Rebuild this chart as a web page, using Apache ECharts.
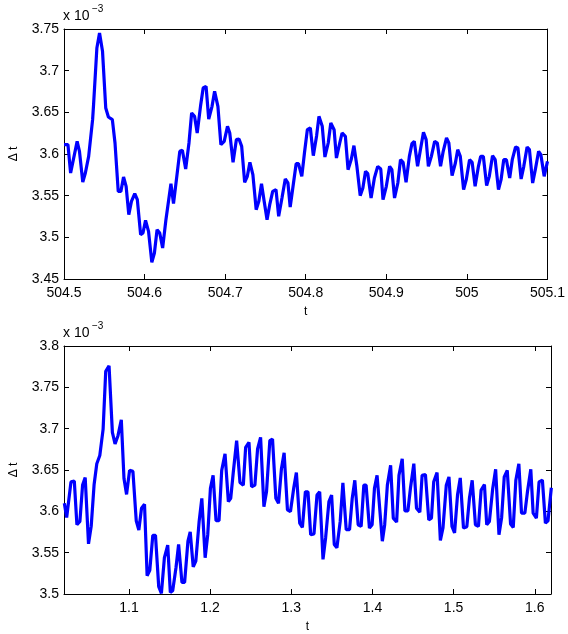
<!DOCTYPE html>
<html>
<head>
<meta charset="utf-8">
<script src="https://cdn.jsdelivr.net/npm/echarts@6/dist/echarts.min.js"></script>
<style>
html,body{margin:0;padding:0;background:#fff;}
#c{width:568px;height:634px;}
</style>
</head>
<body>
<div id="c"></div>
<script>
// ---- Data (values in units of 1e-3) ----
const tTop = [504.5000,504.5049,504.5082,504.5163,504.5192,504.5233,504.5265,504.5306,504.5355,504.5367,504.5408,504.5441,504.5478,504.5518,504.5551,504.5600,504.5633,504.5673,504.5706,504.5739,504.5771,504.5804,504.5837,504.5878,504.5910,504.5951,504.5980,504.6012,504.6049,504.6090,504.6122,504.6155,504.6188,504.6224,504.6265,504.6327,504.6359,504.6400,504.6437,504.6469,504.6510,504.6551,504.6584,504.6620,504.6653,504.6694,504.6727,504.6763,504.6796,504.6837,504.6869,504.6910,504.6947,504.6988,504.7029,504.7057,504.7098,504.7139,504.7172,504.7205,504.7242,504.7275,504.7307,504.7344,504.7385,504.7418,504.7451,504.7484,504.7520,504.7553,504.7590,504.7631,504.7664,504.7705,504.7746,504.7779,504.7807,504.7848,504.7881,504.7910,504.7951,504.7984,504.8020,504.8057,504.8094,504.8135,504.8164,504.8205,504.8238,504.8279,504.8311,504.8352,504.8381,504.8422,504.8451,504.8492,504.8525,504.8566,504.8598,504.8635,504.8676,504.8709,504.8742,504.8770,504.8811,504.8852,504.8893,504.8931,504.8959,504.9000,504.9041,504.9069,504.9102,504.9143,504.9176,504.9208,504.9245,504.9286,504.9318,504.9347,504.9388,504.9420,504.9461,504.9494,504.9522,504.9559,504.9600,504.9633,504.9673,504.9706,504.9747,504.9776,504.9816,504.9857,504.9886,504.9918,504.9959,504.9992,505.0033,505.0065,505.0102,505.0143,505.0171,505.0204,505.0245,505.0278,505.0318,505.0351,505.0392,505.0424,505.0457,505.0490,505.0531,505.0563,505.0604,505.0633,505.0673,505.0706,505.0747,505.0776,505.0816,505.0849,505.0890,505.0918,505.0959,505.1000];
const vTop = [3.6112,3.6112,3.5772,3.6152,3.6032,3.5664,3.5772,3.5972,3.6412,3.6592,3.7272,3.7452,3.7232,3.6552,3.6444,3.6412,3.6132,3.5552,3.5552,3.5724,3.5612,3.5272,3.5432,3.5524,3.5452,3.5032,3.5052,3.5204,3.5072,3.4700,3.4812,3.5092,3.5052,3.4872,3.5212,3.5644,3.5404,3.5732,3.6032,3.6044,3.5820,3.6132,3.6492,3.6452,3.6252,3.6572,3.6792,3.6812,3.6420,3.6572,3.6752,3.6572,3.6112,3.6152,3.6332,3.6252,3.5900,3.6172,3.6180,3.6092,3.5660,3.5732,3.5900,3.5752,3.5332,3.5432,3.5644,3.5432,3.5212,3.5392,3.5552,3.5572,3.5252,3.5472,3.5700,3.5652,3.5364,3.5652,3.5884,3.5884,3.5732,3.6012,3.6292,3.6312,3.5980,3.6220,3.6452,3.6332,3.5964,3.6132,3.6372,3.6292,3.5952,3.6132,3.6252,3.6212,3.5812,3.5940,3.6100,3.5852,3.5500,3.5592,3.5792,3.5764,3.5472,3.5712,3.5852,3.5820,3.5452,3.5612,3.5852,3.5812,3.5472,3.5652,3.5932,3.5900,3.5660,3.5972,3.6124,3.6152,3.5852,3.6032,3.6260,3.6172,3.5852,3.5972,3.6152,3.6132,3.5852,3.6032,3.6192,3.6132,3.5740,3.5892,3.6052,3.5972,3.5572,3.5692,3.5932,3.5900,3.5612,3.5852,3.5972,3.5972,3.5620,3.5732,3.5980,3.5932,3.5572,3.5692,3.5932,3.5932,3.5712,3.5932,3.6084,3.6072,3.5700,3.5852,3.6084,3.6052,3.5652,3.5812,3.6032,3.5992,3.5732,3.5912];

const tBot = [1.0204,1.0233,1.0257,1.0286,1.0327,1.0359,1.0396,1.0429,1.0461,1.0502,1.0535,1.0571,1.0604,1.0641,1.0682,1.0714,1.0755,1.0796,1.0829,1.0865,1.0906,1.0939,1.0971,1.1008,1.1049,1.1090,1.1122,1.1155,1.1192,1.1224,1.1257,1.1294,1.1327,1.1367,1.1400,1.1437,1.1478,1.1510,1.1539,1.1580,1.1612,1.1653,1.1686,1.1727,1.1755,1.1792,1.1824,1.1865,1.1898,1.1939,1.1971,1.2004,1.2037,1.2073,1.2110,1.2143,1.2184,1.2225,1.2254,1.2286,1.2327,1.2368,1.2409,1.2438,1.2479,1.2511,1.2552,1.2585,1.2622,1.2663,1.2695,1.2736,1.2769,1.2810,1.2843,1.2879,1.2912,1.2953,1.2990,1.3031,1.3063,1.3104,1.3137,1.3174,1.3206,1.3239,1.3280,1.3317,1.3350,1.3391,1.3423,1.3464,1.3497,1.3530,1.3562,1.3603,1.3636,1.3677,1.3718,1.3751,1.3783,1.3824,1.3861,1.3894,1.3922,1.3963,1.3996,1.4025,1.4057,1.4122,1.4151,1.4184,1.4224,1.4257,1.4298,1.4327,1.4367,1.4400,1.4437,1.4469,1.4510,1.4543,1.4584,1.4612,1.4653,1.4694,1.4727,1.4755,1.4796,1.4837,1.4869,1.4910,1.4943,1.4980,1.5012,1.5049,1.5082,1.5122,1.5163,1.5196,1.5229,1.5269,1.5306,1.5339,1.5380,1.5408,1.5441,1.5482,1.5518,1.5559,1.5592,1.5624,1.5661,1.5702,1.5735,1.5767,1.5804,1.5837,1.5878,1.5910,1.5951,1.5980,1.6020,1.6053,1.6094,1.6131,1.6163,1.6204];
const vBot = [3.6097,3.5926,3.5910,3.6357,3.6365,3.5838,3.5878,3.6317,3.6408,3.5607,3.5818,3.6325,3.6576,3.6676,3.6995,3.7693,3.7761,3.6955,3.6815,3.6915,3.7107,3.6397,3.6205,3.6496,3.6484,3.5886,3.5774,3.6037,3.6085,3.5220,3.5288,3.5710,3.5710,3.5088,3.5008,3.5439,3.5591,3.5020,3.5040,3.5320,3.5599,3.5140,3.5140,3.5639,3.5750,3.5328,3.5399,3.5878,3.6157,3.5439,3.5718,3.6277,3.6436,3.5886,3.5886,3.6496,3.6696,3.6117,3.6157,3.6476,3.6855,3.6349,3.6317,3.6775,3.6835,3.6297,3.6317,3.6755,3.6895,3.6057,3.6237,3.6855,3.6875,3.6157,3.6097,3.6516,3.6708,3.6018,3.5998,3.6285,3.6468,3.5858,3.5806,3.6237,3.6237,3.5718,3.5726,3.6197,3.6237,3.5419,3.5678,3.6117,3.6197,3.5599,3.5559,3.5878,3.6345,3.5778,3.5778,3.6157,3.6376,3.5838,3.5818,3.6317,3.6317,3.5798,3.5838,3.6277,3.6436,3.5639,3.5838,3.6317,3.6556,3.5918,3.5870,3.6436,3.6636,3.6006,3.6006,3.6285,3.6576,3.6038,3.5990,3.6436,3.6444,3.5898,3.5918,3.6357,3.6468,3.5647,3.5798,3.6317,3.6416,3.5818,3.5738,3.6205,3.6404,3.5798,3.5814,3.6165,3.6376,3.5838,3.5818,3.6257,3.6325,3.5838,3.5878,3.6277,3.6508,3.5718,3.5926,3.6416,3.6496,3.5846,3.5806,3.6377,3.6576,3.5978,3.5978,3.6237,3.6508,3.5978,3.5918,3.6357,3.6377,3.5858,3.5886,3.6285];

const xTicksTop = [504.5,504.6,504.7,504.8,504.9,505,505.1];
const xTicksBot = [1.1,1.2,1.3,1.4,1.5,1.6];
const yTicksTop = [3.45,3.5,3.55,3.6,3.65,3.7,3.75];
const yTicksBot = [3.5,3.55,3.6,3.65,3.7,3.75,3.8];

const xNameText = 't';
const yNameText = 'Δ t';
const expBase = 'x 10';
const expPow = '−3';

// ---- Chart ----
const FONT = '"Liberation Sans", Arial, Helvetica, sans-serif';
const chart = echarts.init(document.getElementById('c'), null, {renderer: 'canvas'});

function pairs(ts, vs){ return ts.map((t,i)=>[t, vs[i]]); }

function xAx(gi, min, max, ticks, show, pos){
  return {
    type: 'value', gridIndex: gi, min: min, max: max, position: pos,
    name: show ? xNameText : '', nameLocation: 'middle', nameGap: 27,
    nameTextStyle: {fontFamily: FONT, fontSize: 12, color: '#000'},
    axisLine: {show: true, onZero: false, lineStyle: {color: '#000', width: 1}},
    axisTick: {show: true, inside: true, length: 5, customValues: ticks, lineStyle: {color: '#000'}},
    axisLabel: {show: show, customValues: ticks, margin: 7, fontFamily: FONT, fontSize: 14, color: '#000',
      formatter: v => String(+v.toFixed(4))},
    splitLine: {show: false}
  };
}
function yAx(gi, min, max, ticks, show, pos){
  return {
    type: 'value', gridIndex: gi, min: min, max: max, position: pos,
    name: show ? yNameText : '', nameLocation: 'middle', nameGap: 44, nameRotate: 90,
    nameTextStyle: {fontFamily: FONT, fontSize: 12, color: '#000'},
    axisLine: {show: true, onZero: false, lineStyle: {color: '#000', width: 1}},
    axisTick: {show: true, inside: true, length: 5, customValues: ticks, lineStyle: {color: '#000'}},
    axisLabel: {show: show, customValues: ticks, margin: 5, fontFamily: FONT, fontSize: 14, color: '#000',
      formatter: v => String(+v.toFixed(4))},
    splitLine: {show: false}
  };
}

const option = {
  backgroundColor: '#fff',
  animation: false,
  grid: [
    {left: 63, top: 29, width: 488, height: 250, containLabel: false},
    {left: 63, top: 346, width: 488, height: 251, containLabel: false}
  ],
  xAxis: [
    xAx(0, 504.5, 505.1, xTicksTop, true, 'bottom'),
    xAx(0, 504.5, 505.1, xTicksTop, false, 'top'),
    xAx(1, 1.02, 1.62, xTicksBot, true, 'bottom'),
    xAx(1, 1.02, 1.62, xTicksBot, false, 'top')
  ],
  yAxis: [
    yAx(0, 3.45, 3.75, yTicksTop, true, 'left'),
    yAx(0, 3.45, 3.75, yTicksTop, false, 'right'),
    yAx(1, 3.5, 3.8, yTicksBot, true, 'left'),
    yAx(1, 3.5, 3.8, yTicksBot, false, 'right')
  ],
  series: [
    {type: 'line', xAxisIndex: 0, yAxisIndex: 0, data: pairs(tTop, vTop), showSymbol: false, symbol: 'none',
      lineStyle: {color: '#0000ff', width: 3.2}, itemStyle: {color: '#0000ff'}, clip: true},
    {type: 'line', xAxisIndex: 2, yAxisIndex: 2, data: pairs(tBot, vBot), showSymbol: false, symbol: 'none',
      lineStyle: {color: '#0000ff', width: 3.2}, itemStyle: {color: '#0000ff'}, clip: true}
  ],
  graphic: [
    {type: 'text', left: 63, top: 9, style: {text: expBase, fontFamily: FONT, fontSize: 14, fill: '#000'}},
    {type: 'text', left: 92, top: 4, style: {text: expPow, fontFamily: FONT, fontSize: 10, fill: '#000'}},
    {type: 'text', left: 63, top: 326, style: {text: expBase, fontFamily: FONT, fontSize: 14, fill: '#000'}},
    {type: 'text', left: 92, top: 321, style: {text: expPow, fontFamily: FONT, fontSize: 10, fill: '#000'}}
  ]
};
chart.setOption(option);
</script>
</body>
</html>
